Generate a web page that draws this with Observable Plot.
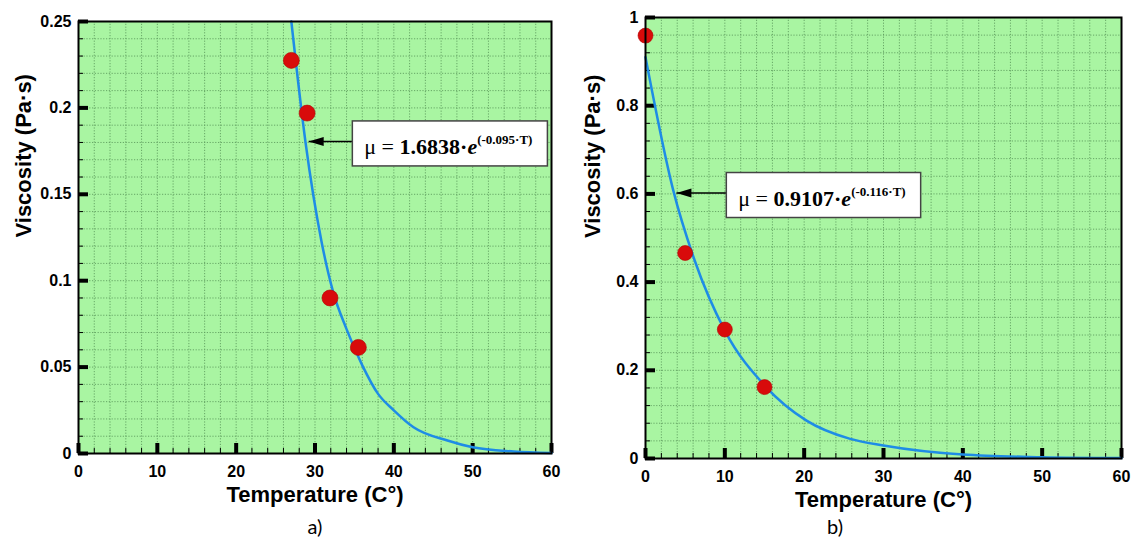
<!DOCTYPE html>
<html><head><meta charset="utf-8">
<script src="https://cdn.jsdelivr.net/npm/d3@7"></script>
<script src="https://cdn.jsdelivr.net/npm/@observablehq/plot@0.6"></script>
<style>
body{margin:0;background:#fff;}
#wrap{position:relative;width:1137px;height:547px;overflow:hidden;background:#fff;}
.chart{position:absolute;top:0;}
.cap{position:absolute;top:514px;font-family:Lato,"Open Sans",sans-serif;font-size:20px;color:#000;transform:translateX(-50%);}
</style></head><body>
<div id="wrap">
  <div id="a" class="chart" style="left:0px"></div>
  <div id="b" class="chart" style="left:568px"></div>
  <div class="cap" style="left:315px">a)</div>
  <div class="cap" style="left:835px">b)</div>
</div>
<script>
// ---------- data ----------
const xLabel = "Temperature (C°)";
const yLabel = "Viscosity (Pa·s)";
const xMajor = [0, 10, 20, 30, 40, 50, 60];
const xMinor = d3.range(0, 60.01, 2);

// chart a)
const yMajorA = [0, 0.05, 0.1, 0.15, 0.2, 0.25];
const yMinorA = d3.range(0, 0.2501, 0.01);
const pointsTA = [27.0, 29.0, 31.9, 35.5];
const pointsVA = [0.2275, 0.197, 0.090, 0.0614];
const curveTA = [27.0, 28.8, 30.8, 32.3, 34.0, 36.0, 38.0, 40.0, 42.5, 46.8, 50.0, 55.2, 60.0];
const curveVA = [0.25, 0.180, 0.1233, 0.0935, 0.072, 0.051, 0.0345, 0.025, 0.0152, 0.0075, 0.0036, 0.0012, 0.0003];
const annotA = [{tipT: 29.2, boxT: 34.8, v: 0.1806, coef: "1.6838", rate: "-0.095"}];

// chart b)
const yMajorB = [0, 0.2, 0.4, 0.6, 0.8, 1];
const yMinorB = d3.range(0, 1.0001, 0.04);
const pointsTB = [0, 5, 10, 15];
const pointsVB = [0.959, 0.466, 0.2925, 0.162];
const curveTB = [0, 3.5, 6.2, 10.0, 15.2, 20.3, 25.7, 30.0, 40, 50, 60];
const curveVB = [0.91, 0.608, 0.449, 0.290, 0.162, 0.086, 0.045, 0.0295, 0.009, 0.003, 0.001];
const annotB = [{tipT: 3.9, boxT: 10.25, v: 0.602, coef: "0.9107", rate: "-0.116"}];

// ---------- styles ----------
const BG = "#a9f5a2";
const GRID = "#5f9f5f";
const BLUE = "#1e8ce6";
const RED = "#d80b0b";

const zip = (T, V) => T.map((t, i) => ({T: t, v: V[i]}));

const arrowHead = {
  draw(ctx) { ctx.moveTo(0, 0); ctx.lineTo(15, -4.5); ctx.lineTo(15, 4.5); ctx.closePath(); }
};

function scaleOf(s) {
  return s.apply ? (v) => s.apply(v) : d3.scaleLinear(s.domain, s.range);
}

function makeChart(cfg) {
  const {W, H, ml, mr, mt, mb, yMax, yMajor, yMinor, pts, curve, annot, r, ylDx} = cfg;
  const pw = W - ml - mr, ph = H - mt - mb;
  const plot = Plot.plot({
    width: W, height: H,
    marginLeft: ml, marginRight: mr, marginTop: mt, marginBottom: mb,
    x: {domain: [0, 60]},
    y: {domain: [0, yMax]},
    style: {fontFamily: "'Liberation Sans', Arial, sans-serif", fontSize: "16px", fontWeight: "bold", background: "transparent", overflow: "visible", color: "#000"},
    marks: [
      Plot.frame({fill: BG, stroke: null}),
      Plot.gridX(xMinor, {stroke: GRID, strokeOpacity: 0.9, strokeDasharray: "1.2,1.6", strokeWidth: 1}),
      Plot.gridY(yMinor, {stroke: GRID, strokeOpacity: 0.9, strokeDasharray: "1.2,1.6", strokeWidth: 1}),
      Plot.ruleX(xMinor, {insetTop: ph - 5, stroke: "#000", strokeWidth: 1}),
      Plot.ruleY(yMinor, {insetRight: pw - 5, stroke: "#000", strokeWidth: 1}),
      Plot.ruleX(xMajor, {insetTop: ph - 10, stroke: "#000", strokeWidth: 4}),
      Plot.ruleY(yMajor, {insetRight: pw - 10, stroke: "#000", strokeWidth: 4}),
      Plot.line(curve, {x: "T", y: "v", stroke: BLUE, strokeWidth: 2.5, curve: "monotone-x"}),
      Plot.dot(pts, {x: "T", y: "v", r, fill: RED, stroke: "#b30000", strokeWidth: 0.6}),
      Plot.link(annot, {x1: "boxT", x2: "tipT", y1: "v", y2: "v", stroke: "#000", strokeWidth: 1.5}),
      Plot.dot(annot, {x: "tipT", y: "v", symbol: arrowHead, r: 5, fill: "#000", stroke: null}),
      Plot.frame({stroke: "#000", strokeWidth: 2, fill: null}),
      Plot.axisX(xMajor, {tickSize: 0, tickPadding: 12, label: null}),
      Plot.axisY(yMajor, {tickSize: 0, tickPadding: 7, label: null, tickFormat: d3.format("~g")}),
      Plot.text([xLabel], {text: d => d, frameAnchor: "bottom", lineAnchor: "top", dy: 33, fontSize: 22, fontWeight: "bold"}),
      Plot.text([yLabel], {text: d => d, frameAnchor: "left", rotate: -90, dx: ylDx, fontSize: 22, fontWeight: "bold"})
    ]
  });
  return plot;
}

function addBox(plot, a) {
  const sx = scaleOf(plot.scale("x")), sy = scaleOf(plot.scale("y"));
  const x0 = sx(a.boxT), yc = sy(a.v);
  const g = d3.select(plot).append("g");
  const rect = g.append("rect");
  const t = g.append("text")
    .attr("x", x0 + 12).attr("y", yc + 13)
    .attr("text-anchor", "start")
    .attr("font-family", "'Liberation Serif', 'Times New Roman', serif")
    .attr("font-size", 22).attr("fill", "#000");
  t.append("tspan").attr("font-weight", "normal").text("μ = ");
  t.append("tspan").attr("font-weight", "bold").text(a.coef + "·");
  t.append("tspan").attr("font-weight", "bold").attr("font-style", "italic").text("e");
  t.append("tspan").attr("font-weight", "bold").attr("font-size", 13).attr("dy", -10).text("(" + a.rate + "·T)");
  const bb = t.node().getBBox();
  rect.attr("x", x0).attr("y", yc - 20)
    .attr("width", bb.x + bb.width + 15 - x0).attr("height", 45)
    .attr("fill", "#fff").attr("stroke", "#444").attr("stroke-width", 1.5);
}

const plotA = makeChart({
  W: 568, H: 505, ml: 78, mr: 17, mt: 21, mb: 52,
  yMax: 0.25, yMajor: yMajorA, yMinor: yMinorA,
  pts: zip(pointsTA, pointsVA), curve: zip(curveTA, curveVA), annot: annotA, r: 8, ylDx: -55
});
document.getElementById("a").appendChild(plotA);
addBox(plotA, annotA[0]);

const plotB = makeChart({
  W: 569, H: 505, ml: 77, mr: 16, mt: 17, mb: 47,
  yMax: 1, yMajor: yMajorB, yMinor: yMinorB,
  pts: zip(pointsTB, pointsVB), curve: zip(curveTB, curveVB), annot: annotB, r: 7.5, ylDx: -53
});
document.getElementById("b").appendChild(plotB);
addBox(plotB, annotB[0]);
</script>
</body></html>
